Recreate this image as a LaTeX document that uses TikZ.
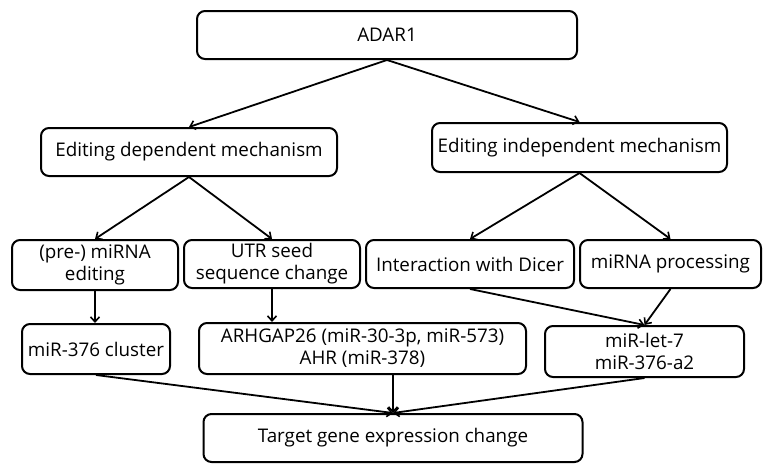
\documentclass[tikz,border=0pt]{standalone}
\usepackage{fontspec}
\setmainfont{Open Sans}
\usetikzlibrary{arrows.meta}
\begin{document}
\begin{tikzpicture}[x=1pt,y=-1pt,
  box/.style={draw=black,line width=2pt,rounded corners=8pt,inner sep=0pt,align=center,
    font=\fontsize{18.8}{22}\selectfont},
  conn/.style={line width=1.8pt,-{Straight Barb[length=5pt,width=9pt,line width=1.6pt]}}]
\useasboundingbox (0,0) rectangle (769,472);
\node[box,minimum width=380pt,minimum height=48pt] (adar) at (387,35) {ADAR1};
\node[box,minimum width=296pt,minimum height=48pt] (ed) at (189,152) {Editing dependent mechanism};
\node[box,minimum width=295pt,minimum height=49pt] (ei) at (579.5,147.5) {Editing independent mechanism};
\node[box,minimum width=166pt,minimum height=50pt] (pre) at (95,265) {(pre-) miRNA\\editing};
\node[box,minimum width=176pt,minimum height=48pt] (utr) at (272,264) {UTR seed\\sequence change};
\node[box,minimum width=208pt,minimum height=48pt] (dic) at (470,264) {Interaction with Dicer};
\node[box,minimum width=181pt,minimum height=48pt] (proc) at (670.5,264) {miRNA processing};
\node[box,minimum width=148pt,minimum height=50pt] (c376) at (96,349) {miR-376 cluster};
\node[box,minimum width=327pt,minimum height=51pt] (arh) at (362.5,348.5) {ARHGAP26 (miR-30-3p, miR-573)\\AHR (miR-378)};
\node[box,minimum width=199pt,minimum height=51pt] (let) at (644.5,351.5) {miR-let-7\\miR-376-a2};
\node[box,minimum width=379pt,minimum height=48pt] (tgt) at (393,438) {Target gene expression change};
\draw[conn] (adar.south) -- (ed.north);
\draw[conn] (adar.south) -- (ei.north);
\draw[conn] (ed.south) -- (pre.north);
\draw[conn] (ed.south) -- (utr.north);
\draw[conn] (ei.south) -- (dic.north);
\draw[conn] (ei.south) -- (proc.north);
\draw[conn] (pre.south) -- (pre.south |- c376.north);
\draw[conn] (utr.south) -- (utr.south |- arh.north);
\draw[conn] (dic.south) -- (let.north);
\draw[conn] (proc.south) -- (let.north);
\draw[conn] (c376.south) -- (tgt.north);
\draw[conn] (tgt.north |- arh.south) -- (tgt.north);
\draw[conn] (let.south) -- (tgt.north);
\end{tikzpicture}
\end{document}
